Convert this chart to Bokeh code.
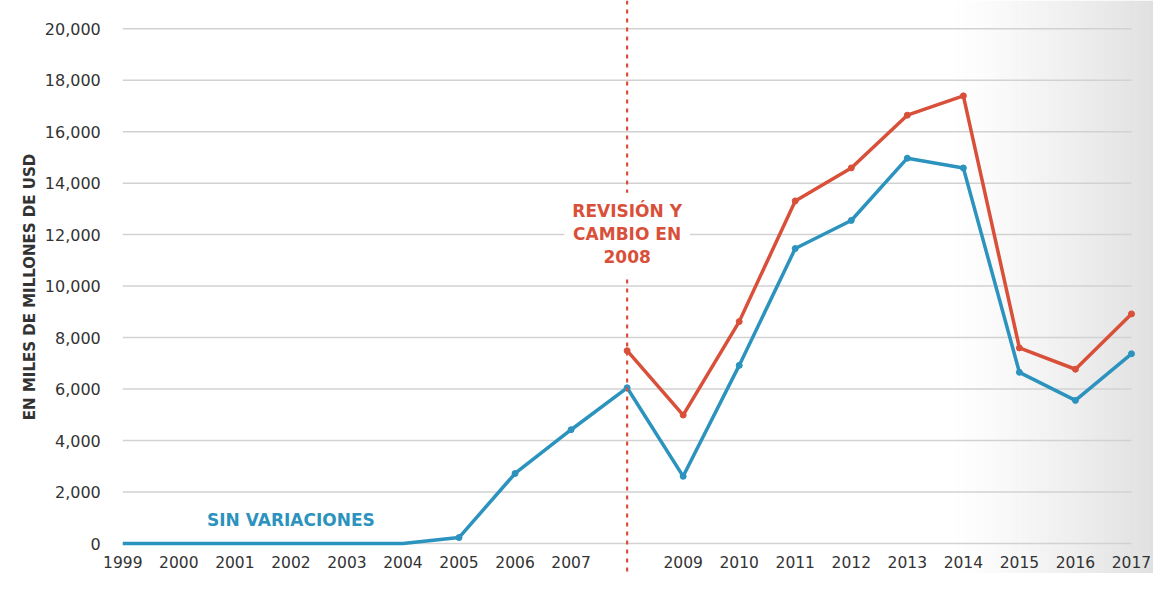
from bokeh.plotting import figure
from bokeh.models import (Range1d, FixedTicker, Span, Label, BoxAnnotation,
                          LinearAxis, NumeralTickFormatter)
from bokeh.embed import file_html
from bokeh.resources import INLINE

years = list(range(1999, 2018))
blue_values = [0, 0, 0, 0, 0, 0, 230, 2720, 4420, 6050, 2610, 6920,
               11460, 12550, 14970, 14590, 6650, 5560, 7370]
red_years = list(range(2008, 2018))
red_values = [7490, 4990, 8620, 13310, 14590, 16640, 17390, 7600, 6770, 8920]
y_ticks = [0, 2000, 4000, 6000, 8000, 10000, 12000, 14000, 16000, 18000, 20000]
x_tick_labels = {y: str(y) for y in years}
x_tick_labels[2008] = ""
change_year = 2008
annotation_text = "REVISIÓN Y\nCAMBIO EN\n2008"
series_label = "SIN VARIACIONES"
y_title = "EN MILES DE MILLONES DE USD"

BLUE = "#2b93bd"
RED = "#d9503a"
TXT = "#333333"
FONT = "DejaVu Sans"

p = figure(width=1153, height=573, output_backend="svg", toolbar_location=None,
           x_range=Range1d(1996.818, 2017.393), y_range=Range1d(-1165, 21095),
           x_axis_location=None, y_axis_location=None,
           min_border_left=0, min_border_right=0, min_border_top=0,
           min_border_bottom=0)
p.outline_line_color = None
p.background_fill_color = "white"
p.border_fill_color = "white"
p.xgrid.grid_line_color = None
p.ygrid.grid_line_color = None

# right-side gradient background
n = 60
x0, x1 = 2013.72, 2017.42
for i in range(n):
    t = (i + 0.5) / n
    g = int(round(255 - 31 * t ** 1.25))
    p.add_layout(BoxAnnotation(left=x0 + (x1 - x0) * i / n,
                               right=x0 + (x1 - x0) * (i + 1) / n + 0.01,
                               fill_color=(g, g, min(255, g + 1)),
                               fill_alpha=1, line_color=None, level="image"))

# horizontal grid lines limited to the data span
p.segment(x0=[years[0]] * len(y_ticks), x1=[years[-1]] * len(y_ticks),
          y0=y_ticks, y1=y_ticks, line_color="#d2d2d2", line_width=1.5)

# axes
yaxis = LinearAxis(ticker=FixedTicker(ticks=y_ticks),
                   formatter=NumeralTickFormatter(format="0,0"),
                   fixed_location=1999)
yaxis.axis_line_color = None
yaxis.major_tick_line_color = None
yaxis.minor_tick_line_color = None
yaxis.major_label_standoff = 16
yaxis.major_label_text_font = FONT
yaxis.major_label_text_font_size = "16px"
yaxis.major_label_text_color = TXT
yaxis.axis_label = y_title
yaxis.axis_label_text_font = FONT
yaxis.axis_label_text_font_style = "bold"
yaxis.axis_label_text_font_size = "15px"
yaxis.axis_label_text_color = TXT
yaxis.axis_label_standoff = 3
p.add_layout(yaxis, "left")

xaxis = LinearAxis(ticker=FixedTicker(ticks=years), fixed_location=0)
xaxis.major_label_overrides = x_tick_labels
xaxis.axis_line_color = None
xaxis.major_tick_line_color = None
xaxis.minor_tick_line_color = None
xaxis.major_label_standoff = 6
xaxis.major_label_text_font = FONT
xaxis.major_label_text_font_size = "15.5px"
xaxis.major_label_text_color = TXT
p.add_layout(xaxis, "below")

# vertical change marker
p.add_layout(Span(location=change_year, dimension="height", line_color=RED,
                  line_width=2.2, line_dash="4 5"))
p.add_layout(Label(x=change_year, y=12030, text=annotation_text,
                   text_align="center", text_baseline="middle",
                   text_font=FONT, text_font_style="bold",
                   text_font_size="17px", text_color=RED,
                   text_line_height=1.15,
                   background_fill_color="white", background_fill_alpha=1,
                   padding=8))

# series
p.line(years, blue_values, line_color=BLUE, line_width=3.5)
p.scatter(years[6:], blue_values[6:], size=6, color=BLUE)
p.line(red_years, red_values, line_color=RED, line_width=3.5)
p.scatter(red_years, red_values, size=6, color=RED)

p.add_layout(Label(x=2002.0, y=910, text=series_label, text_align="center",
                   text_baseline="middle", text_font=FONT,
                   text_font_style="bold", text_font_size="17px",
                   text_color=BLUE))

open("out.html", "w").write(file_html(p, INLINE))
